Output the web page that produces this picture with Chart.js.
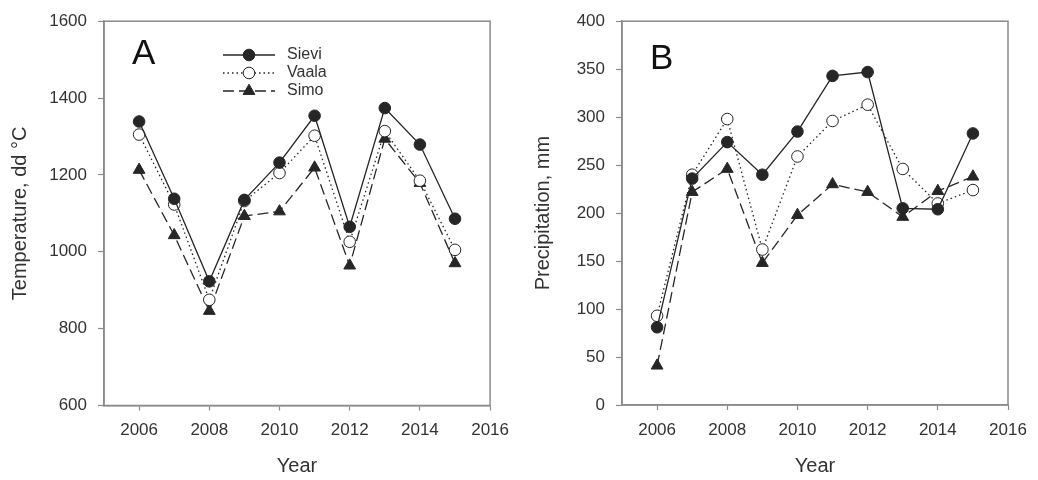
<!DOCTYPE html>
<html>
<head>
<meta charset="utf-8">
<script src="https://cdn.jsdelivr.net/npm/chart.js@4.4.1/dist/chart.umd.min.js"></script>
<style>
	html, body { margin: 0; padding: 0; background: #fff; }
	#wrap { position: relative; width: 1038px; height: 480px; }
	canvas { position: absolute; top: 0; }
	#chartA { left: 0; }
	#chartB { left: 519px; }
</style>
</head>
<body>
<div id="wrap">
	<canvas id="chartA" width="519" height="480"></canvas>
	<canvas id="chartB" width="519" height="480"></canvas>
</div>
<script>
var years = [2006, 2007, 2008, 2009, 2010, 2011, 2012, 2013, 2014, 2015],
	 yearTicks = [2006, 2008, 2010, 2012, 2014, 2016],
	 stations = ["Sievi", "Vaala", "Simo"],
	 // panel A: temperature sum, dd oC
	 tempSievi = [1339, 1138, 923, 1135, 1232, 1354, 1065, 1374, 1279, 1086],
	 tempVaala = [1305, 1123, 875, 1132, 1205, 1302, 1026, 1314, 1185, 1005],
	 tempSimo = [1213, 1043, 846, 1093, 1105, 1219, 964, 1294, 1179, 970],
	 tempTicks = [600, 800, 1000, 1200, 1400, 1600],
	 // panel B: precipitation, mm
	 precSievi = [81, 236, 274, 240, 285, 343, 347, 205, 204, 283],
	 precVaala = [93, 240, 298, 162, 259, 296, 313, 246, 210, 224],
	 precSimo = [41, 222, 246, 148, 198, 230, 222, 196, 223, 238],
	 precTicks = [0, 50, 100, 150, 200, 250, 300, 350, 400];

var ink = "#262626",
	 axisGray = "#8a8a8a",
	 textGray = "#333333",
	 fontName = "'Liberation Sans', Arial, sans-serif";

var lineStyles = {
	"Sievi": { dash: [], point: "circle", radius: 5.8, fill: ink },
	"Vaala": { dash: [1.5, 3], point: "circle", radius: 5.8, fill: "#ffffff" },
	"Simo": { dash: [11, 5], point: "triangle", radius: 6.8, fill: ink }
};

function makeDatasets(seriesList) {
	var sets = [];
	for (var i = 0; i < stations.length; i++) {
		var st = lineStyles[stations[i]],
			 pts = [];
		for (var j = 0; j < years.length; j++) {
			pts.push({ x: years[j], y: seriesList[i][j] });
		}
		sets.push({
			label: stations[i],
			data: pts,
			borderColor: ink,
			borderWidth: 1.3,
			borderDash: st.dash,
			pointStyle: st.point,
			pointRadius: st.radius,
			pointBackgroundColor: st.fill,
			pointBorderColor: ink,
			pointBorderWidth: 1,
			tension: 0
		});
	}
	return sets;
}

// frame, panel letter and (optional) key
var panelDecor = {
	id: "panelDecor",
	afterDraw: function(chart, args, opts) {
		var ctx = chart.ctx,
			 area = chart.chartArea;
		ctx.save();
		ctx.strokeStyle = axisGray;
		ctx.lineWidth = 1.5;
		ctx.strokeRect(area.left, area.top, area.right - area.left, area.bottom - area.top);

		ctx.fillStyle = "#111";
		ctx.font = "35px " + fontName;
		ctx.textAlign = "left";
		ctx.textBaseline = "middle";
		ctx.fillText(opts.letter, area.left + opts.letterDx, opts.letterY);

		if (opts.showKey) {
			var rows = [55, 73, 91];
			for (var i = 0; i < chart.data.datasets.length; i++) {
				var ds = chart.data.datasets[i],
					 y = rows[i];
				ctx.strokeStyle = ink;
				ctx.lineWidth = 1.3;
				ctx.setLineDash(ds.borderDash);
				ctx.beginPath();
				ctx.moveTo(223, y);
				ctx.lineTo(275, y);
				ctx.stroke();
				ctx.setLineDash([]);
				ctx.fillStyle = ds.pointBackgroundColor;
				ctx.lineWidth = 1;
				Chart.helpers.drawPoint(ctx, {
					pointStyle: ds.pointStyle,
					radius: ds.pointRadius,
					rotation: 0,
					borderWidth: 1
				}, 249, y);
				ctx.fillStyle = textGray;
				ctx.font = "16px " + fontName;
				ctx.fillText(ds.label, 287, y);
			}
		}
		ctx.restore();
	}
};

function buildPanel(canvasId, seriesList, yTicks, yTitle, leftW, rightPad, bottomY, yTitlePad, decor) {
	return new Chart(document.getElementById(canvasId).getContext("2d"), {
		type: "line",
		data: { datasets: makeDatasets(seriesList) },
		plugins: [panelDecor],
		options: {
			responsive: false,
			animation: false,
			devicePixelRatio: 1,
			layout: { padding: { top: 17, right: rightPad, left: 0, bottom: 0 } },
			plugins: {
				legend: { display: false },
				tooltip: { enabled: false },
				panelDecor: decor
			},
			scales: {
				x: {
					type: "linear",
					min: 2005,
					max: 2016,
					afterBuildTicks: function(s) {
						s.ticks = yearTicks.map(function(v) { return { value: v }; });
					},
					afterFit: function(s) { s.height = 480 - bottomY; },
					grid: { drawOnChartArea: false, drawTicks: true, tickLength: 5, tickColor: axisGray, tickWidth: 1.2 },
					border: { display: true, color: axisGray, width: 1.5 },
					ticks: {
						color: textGray,
						font: { family: fontName, size: 17 },
						padding: 10,
						maxRotation: 0,
						callback: function(v) { return String(v); }
					},
					title: {
						display: true,
						text: "Year",
						color: textGray,
						font: { family: fontName, size: 20 },
						padding: { top: 0, bottom: 2 }
					}
				},
				y: {
					type: "linear",
					min: yTicks[0],
					max: yTicks[yTicks.length - 1],
					afterBuildTicks: function(s) {
						s.ticks = yTicks.map(function(v) { return { value: v }; });
					},
					afterFit: function(s) { s.width = leftW; },
					grid: { drawOnChartArea: false, drawTicks: true, tickLength: 6, tickColor: axisGray, tickWidth: 1.2 },
					border: { display: true, color: axisGray, width: 1.5 },
					ticks: {
						color: textGray,
						font: { family: fontName, size: 17 },
						padding: 11,
						callback: function(v) { return String(v); }
					},
					title: {
						display: true,
						text: yTitle,
						color: textGray,
						font: { family: fontName, size: 20 },
						padding: { top: yTitlePad, bottom: 0 }
					}
				}
			}
		}
	});
}

var chartA = buildPanel("chartA", [tempSievi, tempVaala, tempSimo], tempTicks,
	"Temperature, dd \u00B0C", 104, 25, 405.5, 8,
	{ letter: "A", letterDx: 28, letterY: 54, showKey: true });

var chartB = buildPanel("chartB", [precSievi, precVaala, precSimo], precTicks,
	"Precipitation, mm", 103, 30, 405, 12,
	{ letter: "B", letterDx: 28, letterY: 59, showKey: false });
</script>
</body>
</html>
